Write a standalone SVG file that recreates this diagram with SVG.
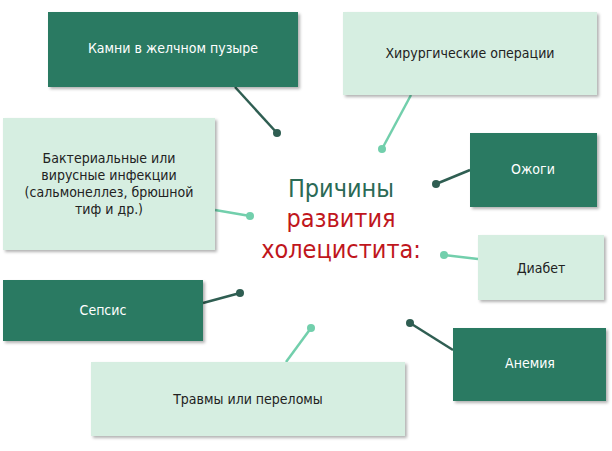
<svg xmlns="http://www.w3.org/2000/svg" width="612" height="451" viewBox="0 0 612 451">
<defs>
<filter id="sh" x="-10%" y="-10%" width="130%" height="130%"><feDropShadow dx="2" dy="2" stdDeviation="1.5" flood-color="#000" flood-opacity="0.3"/></filter>
</defs>
<style>
.d{fill:#2b7a62;filter:url(#sh)}
.l{fill:#d6eee1;filter:url(#sh)}
.td{fill:#fff;font-family:"DejaVu Sans Condensed","Liberation Sans",sans-serif;font-size:14px;text-anchor:middle}
.tl{fill:#222;font-family:"DejaVu Sans Condensed","Liberation Sans",sans-serif;font-size:14px;text-anchor:middle}
.cd{stroke:#2f5e52;stroke-width:2.5}
.cl{stroke:#72cfac;stroke-width:2.5}
.pd{fill:#2f5e52}
.pl{fill:#72cfac}
.c{font-family:"DejaVu Sans Condensed","Liberation Sans",sans-serif;font-size:25px;text-anchor:middle}
</style>
<rect width="612" height="451" fill="#fff"/>
<g id="connectors">
<line class="cd" x1="235" y1="87" x2="277" y2="133"/><circle class="pd" cx="277" cy="133" r="4"/>
<line class="cl" x1="411" y1="95" x2="382" y2="149"/><circle class="pl" cx="382" cy="149" r="4"/>
<line class="cl" x1="215" y1="210" x2="250" y2="216"/><circle class="pl" cx="250" cy="216" r="4"/>
<line class="cd" x1="470" y1="170" x2="436" y2="184"/><circle class="pd" cx="436" cy="184" r="4"/>
<line class="cl" x1="478" y1="259" x2="444" y2="255"/><circle class="pl" cx="444" cy="255" r="4"/>
<line class="cd" x1="203" y1="303" x2="240" y2="293"/><circle class="pd" cx="240" cy="293" r="4"/>
<line class="cd" x1="453" y1="350" x2="410" y2="323"/><circle class="pd" cx="410" cy="323" r="4"/>
<line class="cl" x1="286" y1="362" x2="311" y2="328"/><circle class="pl" cx="311" cy="328" r="4"/>
</g>
<g id="n1"><rect class="d" x="48" y="12" width="250" height="75"/><text class="td" x="173" y="53">Камни в желчном пузыре</text></g>
<g id="n2"><rect class="l" x="343" y="12" width="254" height="83"/><text class="tl" x="470" y="58">Хирургические операции</text></g>
<g id="n3"><rect class="l" x="3" y="118" width="212" height="132"/><text class="tl" x="109" y="163">Бактериальные или</text><text class="tl" x="109" y="180">вирусные инфекции</text><text class="tl" x="109" y="197">(сальмонеллез, брюшной</text><text class="tl" x="109" y="214">тиф и др.)</text></g>
<g id="n4"><rect class="d" x="470" y="133" width="127" height="74"/><text class="td" x="533" y="174">Ожоги</text></g>
<g id="n5"><rect class="l" x="478" y="235" width="126" height="65"/><text class="tl" x="541" y="273">Диабет</text></g>
<g id="n6"><rect class="d" x="3" y="280" width="200" height="61"/><text class="td" x="103" y="315">Сепсис</text></g>
<g id="n7"><rect class="d" x="453" y="328" width="153" height="73"/><text class="td" x="530" y="368">Анемия</text></g>
<g id="n8"><rect class="l" x="91" y="362" width="314" height="74"/><text class="tl" x="248" y="404">Травмы или переломы</text></g>
<g id="center"><text class="c" x="341" y="197" fill="#2b6a55">Причины</text><text class="c" x="341" y="227" fill="#c0161c">развития</text><text class="c" x="341" y="258" fill="#c0161c">холецистита:</text></g>
</svg>
